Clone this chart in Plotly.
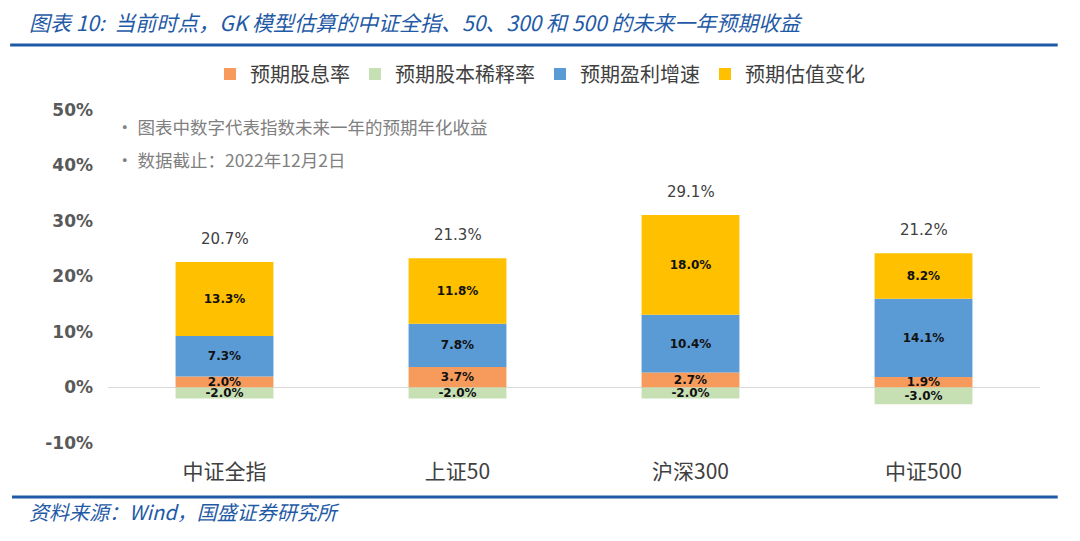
import plotly.graph_objects as go

categories = ["中证全指", "上证50", "沪深300", "中证500"]
dividend = [2.0, 3.7, 2.7, 1.9]
dilution = [-2.0, -2.0, -2.0, -3.0]
earnings = [7.3, 7.8, 10.4, 14.1]
valuation = [13.3, 11.8, 18.0, 8.2]
totals = [20.7, 21.3, 29.1, 21.2]
series_names = ["预期股息率", "预期股本稀释率", "预期盈利增速", "预期估值变化"]
colors = ["#F79B5C", "#C6E0B4", "#5B9BD5", "#FFC000"]
y_ticks = [-10, 0, 10, 20, 30, 40, 50]
y_tick_labels = ["-10%", "0%", "10%", "20%", "30%", "40%", "50%"]

FONT = "Noto Sans CJK SC, Noto Sans, sans-serif"
NUMFONT = "DejaVu Sans, Noto Sans, sans-serif"

fig = go.Figure()
for name, vals, col in zip(series_names, [dividend, dilution, earnings, valuation], colors):
    fig.add_trace(go.Bar(
        x=categories, y=vals, name=name, marker=dict(color=col, line=dict(width=0)),
        text=[f"{v:.1f}%" for v in vals], textposition="inside", insidetextanchor="middle",
        constraintext="none", cliponaxis=False,
        textfont=dict(family=NUMFONT, size=12, color="#111111", weight="bold"),
        hoverinfo="skip",
    ))

for c, d, e, v, t in zip(categories, dividend, earnings, valuation, totals):
    top = d + e + v
    fig.add_annotation(x=c, y=top, text=f"{t:.1f}%", showarrow=False, yshift=23,
                       font=dict(family=NUMFONT, size=15, color="#404040"))

# notes
fig.add_annotation(xref="paper", yref="paper", x=0.006, y=0.949, xanchor="left", yanchor="middle",
                   text="· 图表中数字代表指数未来一年的预期年化收益", showarrow=False,
                   font=dict(family=FONT, size=17.5, color="#808080"))
fig.add_annotation(xref="paper", yref="paper", x=0.006, y=0.85, xanchor="left", yanchor="middle",
                   text="· 数据截止：2022年12月2日", showarrow=False,
                   font=dict(family=FONT, size=17.5, color="#808080"))

# title
fig.add_annotation(xref="paper", yref="paper", x=-0.087, y=1.264, xanchor="left", yanchor="middle",
                   text="<i>图表 10:  当前时点，GK 模型估算的中证全指、50、300 和 500 的未来一年预期收益</i>",
                   showarrow=False, font=dict(family=FONT, size=21, color="#1F5AA6"))
# footer
fig.add_annotation(xref="paper", yref="paper", x=-0.087, y=-0.207, xanchor="left", yanchor="middle",
                   text="<i>资料来源：Wind，国盛证券研究所</i>",
                   showarrow=False, font=dict(family=FONT, size=20, color="#1F5AA6"))

fig.add_shape(type="line", xref="paper", yref="paper", x0=-0.105, x1=1.019, y0=1.195, y1=1.195,
              line=dict(color="#1F5AA6", width=3))
fig.add_shape(type="line", xref="paper", yref="paper", x0=-0.103, x1=1.019, y0=-0.162, y1=-0.162,
              line=dict(color="#1F5AA6", width=3))

fig.update_layout(
    width=1080, height=541,
    margin=dict(l=108, r=40, t=110, b=98),
    paper_bgcolor="white", plot_bgcolor="white",
    barmode="relative", bargap=0.58,
    uniformtext=dict(minsize=12, mode="show"),
    font=dict(family=FONT),
    showlegend=True,
    legend=dict(orientation="h", x=0.4635, xanchor="center", y=1.108, yanchor="middle",
                font=dict(family=FONT, size=20, color="#404040"), traceorder="normal",
                itemwidth=30),
    xaxis=dict(showgrid=False, showline=False, ticks="", ticklabelstandoff=14,
               tickfont=dict(family=FONT, size=21, color="#404040")),
    yaxis=dict(range=[-10, 50], tickvals=y_ticks, ticktext=y_tick_labels,
               showgrid=False, showline=False,
               zeroline=True, zerolinecolor="#D9D9D9", zerolinewidth=1,
               ticklabelstandoff=14,
               tickfont=dict(family=NUMFONT, size=17, color="#595959", weight="bold")),
)

fig.write_html("out.html", config={"displayModeBar": False},
               post_script="document.body.style.margin='0';")
